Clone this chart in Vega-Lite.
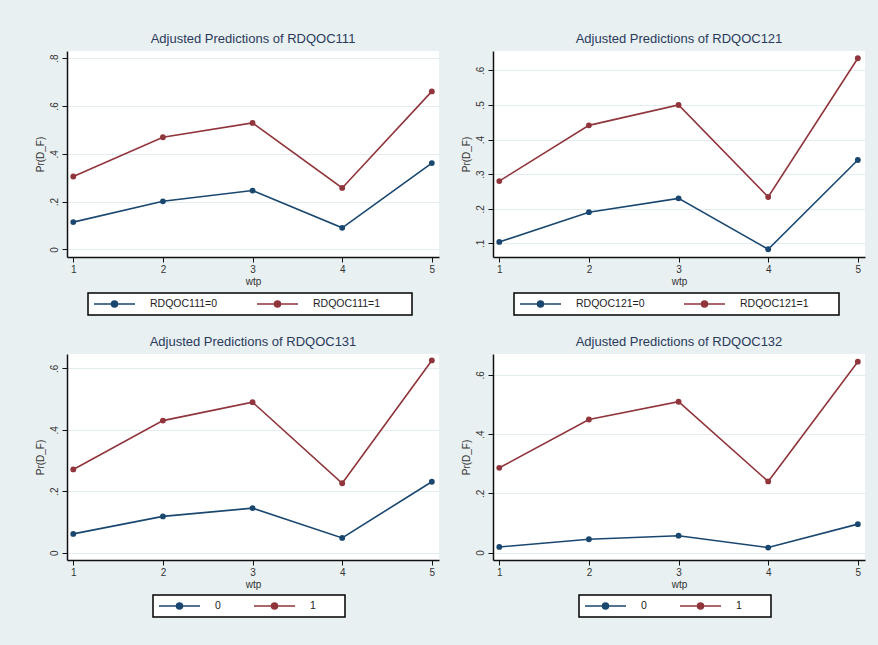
{
  "$schema": "https://vega.github.io/schema/vega-lite/v6.json",
  "background": "#e9f0f2",
  "padding": {"left": 35, "top": 33, "right": 13, "bottom": 28},
  "config": {
    "font": "Liberation Sans",
    "view": {"fill": "white", "stroke": null},
    "title": {"fontSize": 13, "fontWeight": "normal", "color": "#2a3a5c", "anchor": "middle", "offset": 5},
    "axis": {
      "domainColor": "#111", "domainWidth": 1.5, "tickColor": "#111", "tickSize": 5, "tickWidth": 1,
      "labelFontSize": 10, "labelColor": "#333", "titleFontSize": 10, "titleColor": "#333", "titleFontWeight": "normal",
      "labelOverlap": false, "labelFlush": false
    },
    "axisX": {"grid": false, "labelPadding": 2, "titlePadding": 2},
    "axisY": {"grid": true, "gridColor": "#e3ecef", "gridWidth": 1, "labelAngle": 270, "labelAlign": "center", "labelBaseline": "bottom", "labelPadding": 3, "titlePadding": 4},
    "legend": {
      "orient": "none", "direction": "horizontal", "columns": 2, "title": null,
      "strokeColor": "#000", "fillColor": "white", "padding": 5,
      "symbolType": "M-1,0H7.2M2.5,0A0.6,0.6,0,1,0,3.7,0A0.6,0.6,0,1,0,2.5,0Z",
      "symbolSize": 100, "symbolStrokeWidth": 1.5,
      "labelOffset": 45, "labelFontSize": 10.5, "labelColor": "#222"
    }
  },
  "datasets": {
    "p1": [
      {"wtp": 1, "grp": "RDQOC111=0", "pr": 0.114}, {"wtp": 2, "grp": "RDQOC111=0", "pr": 0.201}, {"wtp": 3, "grp": "RDQOC111=0", "pr": 0.246}, {"wtp": 4, "grp": "RDQOC111=0", "pr": 0.090}, {"wtp": 5, "grp": "RDQOC111=0", "pr": 0.361},
      {"wtp": 1, "grp": "RDQOC111=1", "pr": 0.305}, {"wtp": 2, "grp": "RDQOC111=1", "pr": 0.469}, {"wtp": 3, "grp": "RDQOC111=1", "pr": 0.529}, {"wtp": 4, "grp": "RDQOC111=1", "pr": 0.257}, {"wtp": 5, "grp": "RDQOC111=1", "pr": 0.661}
    ],
    "p2": [
      {"wtp": 1, "grp": "RDQOC121=0", "pr": 0.104}, {"wtp": 2, "grp": "RDQOC121=0", "pr": 0.190}, {"wtp": 3, "grp": "RDQOC121=0", "pr": 0.230}, {"wtp": 4, "grp": "RDQOC121=0", "pr": 0.083}, {"wtp": 5, "grp": "RDQOC121=0", "pr": 0.341},
      {"wtp": 1, "grp": "RDQOC121=1", "pr": 0.280}, {"wtp": 2, "grp": "RDQOC121=1", "pr": 0.441}, {"wtp": 3, "grp": "RDQOC121=1", "pr": 0.500}, {"wtp": 4, "grp": "RDQOC121=1", "pr": 0.234}, {"wtp": 5, "grp": "RDQOC121=1", "pr": 0.635}
    ],
    "p3": [
      {"wtp": 1, "grp": "0", "pr": 0.061}, {"wtp": 2, "grp": "0", "pr": 0.118}, {"wtp": 3, "grp": "0", "pr": 0.145}, {"wtp": 4, "grp": "0", "pr": 0.048}, {"wtp": 5, "grp": "0", "pr": 0.231},
      {"wtp": 1, "grp": "1", "pr": 0.271}, {"wtp": 2, "grp": "1", "pr": 0.430}, {"wtp": 3, "grp": "1", "pr": 0.490}, {"wtp": 4, "grp": "1", "pr": 0.226}, {"wtp": 5, "grp": "1", "pr": 0.626}
    ],
    "p4": [
      {"wtp": 1, "grp": "0", "pr": 0.019}, {"wtp": 2, "grp": "0", "pr": 0.045}, {"wtp": 3, "grp": "0", "pr": 0.057}, {"wtp": 4, "grp": "0", "pr": 0.017}, {"wtp": 5, "grp": "0", "pr": 0.096},
      {"wtp": 1, "grp": "1", "pr": 0.286}, {"wtp": 2, "grp": "1", "pr": 0.449}, {"wtp": 3, "grp": "1", "pr": 0.509}, {"wtp": 4, "grp": "1", "pr": 0.240}, {"wtp": 5, "grp": "1", "pr": 0.644}
    ]
  },
  "spacing": 20,
  "resolve": {"scale": {"color": "independent", "x": "independent", "y": "independent"}},
  "vconcat": [
    {
      "spacing": 22,
      "resolve": {"scale": {"color": "independent", "x": "independent", "y": "independent"}},
      "hconcat": [
        {
          "width": 372, "height": 206,
          "title": "Adjusted Predictions of RDQOC111",
          "data": {"name": "p1"},
          "encoding": {
            "x": {"field": "wtp", "type": "quantitative", "title": "wtp", "scale": {"domain": [0.93, 5.08], "nice": false, "zero": false}, "axis": {"values": [1, 2, 3, 4, 5], "format": "d"}},
            "y": {"field": "pr", "type": "quantitative", "title": "Pr(D_F)", "scale": {"domain": [-0.032, 0.83], "nice": false, "zero": false}, "axis": {"values": [0, 0.2, 0.4, 0.6, 0.8], "labelExpr": "datum.value == 0 ? '0' : replace(format(datum.value, '.1f'), '0.', '.')"}},
            "color": {"field": "grp", "type": "nominal", "scale": {"domain": ["RDQOC111=0", "RDQOC111=1"], "range": ["#1a476f", "#90353b"]},
              "legend": {"legendX": 21, "legendY": 242, "columnPadding": 36,
                "encode": {"symbols": {"update": {
                  "fill": {"signal": "test(/0$/, datum.value) ? '#1a476f' : '#90353b'"},
                  "stroke": {"signal": "test(/0$/, datum.value) ? '#1a476f' : '#90353b'"},
                  "shape": {"signal": "test(/1$/, datum.value) ? 'M-1,0H7.2M2.5,0A0.6,0.6,0,1,0,3.7,0A0.6,0.6,0,1,0,2.5,0ZM28.3,0' : 'M-1,0H7.2M2.5,0A0.6,0.6,0,1,0,3.7,0A0.6,0.6,0,1,0,2.5,0Z'"}
                }}, "legend": {"update": {"strokeWidth": {"value": 1.5}}}}}}
          },
          "layer": [
            {"mark": {"type": "line", "strokeWidth": 1.6}},
            {"mark": {"type": "point", "filled": true, "size": 34, "opacity": 1}}
          ]
        },
        {
          "width": 372, "height": 206,
          "title": "Adjusted Predictions of RDQOC121",
          "data": {"name": "p2"},
          "encoding": {
            "x": {"field": "wtp", "type": "quantitative", "title": "wtp", "scale": {"domain": [0.93, 5.08], "nice": false, "zero": false}, "axis": {"values": [1, 2, 3, 4, 5], "format": "d"}},
            "y": {"field": "pr", "type": "quantitative", "title": "Pr(D_F)", "scale": {"domain": [0.0605, 0.656], "nice": false, "zero": false}, "axis": {"values": [0.1, 0.2, 0.3, 0.4, 0.5, 0.6], "labelExpr": "datum.value == 0 ? '0' : replace(format(datum.value, '.1f'), '0.', '.')"}},
            "color": {"field": "grp", "type": "nominal", "scale": {"domain": ["RDQOC121=0", "RDQOC121=1"], "range": ["#1a476f", "#90353b"]},
              "legend": {"legendX": 21, "legendY": 242, "columnPadding": 36,
                "encode": {"symbols": {"update": {
                  "fill": {"signal": "test(/0$/, datum.value) ? '#1a476f' : '#90353b'"},
                  "stroke": {"signal": "test(/0$/, datum.value) ? '#1a476f' : '#90353b'"},
                  "shape": {"signal": "test(/1$/, datum.value) ? 'M-1,0H7.2M2.5,0A0.6,0.6,0,1,0,3.7,0A0.6,0.6,0,1,0,2.5,0ZM28.3,0' : 'M-1,0H7.2M2.5,0A0.6,0.6,0,1,0,3.7,0A0.6,0.6,0,1,0,2.5,0Z'"}
                }}, "legend": {"update": {"strokeWidth": {"value": 1.5}}}}}}
          },
          "layer": [
            {"mark": {"type": "line", "strokeWidth": 1.6}},
            {"mark": {"type": "point", "filled": true, "size": 34, "opacity": 1}}
          ]
        }
      ]
    },
    {
      "spacing": 22,
      "resolve": {"scale": {"color": "independent", "x": "independent", "y": "independent"}},
      "hconcat": [
        {
          "width": 372, "height": 206,
          "title": "Adjusted Predictions of RDQOC131",
          "data": {"name": "p3"},
          "encoding": {
            "x": {"field": "wtp", "type": "quantitative", "title": "wtp", "scale": {"domain": [0.93, 5.08], "nice": false, "zero": false}, "axis": {"values": [1, 2, 3, 4, 5], "format": "d"}},
            "y": {"field": "pr", "type": "quantitative", "title": "Pr(D_F)", "scale": {"domain": [-0.024, 0.647], "nice": false, "zero": false}, "axis": {"values": [0, 0.2, 0.4, 0.6], "labelExpr": "datum.value == 0 ? '0' : replace(format(datum.value, '.1f'), '0.', '.')"}},
            "color": {"field": "grp", "type": "nominal", "scale": {"domain": ["0", "1"], "range": ["#1a476f", "#90353b"]},
              "legend": {"legendX": 86, "legendY": 241, "columnPadding": 30,
                "encode": {"symbols": {"update": {
                  "fill": {"signal": "test(/0$/, datum.value) ? '#1a476f' : '#90353b'"},
                  "stroke": {"signal": "test(/0$/, datum.value) ? '#1a476f' : '#90353b'"},
                  "shape": {"signal": "test(/1$/, datum.value) ? 'M-1,0H7.2M2.5,0A0.6,0.6,0,1,0,3.7,0A0.6,0.6,0,1,0,2.5,0ZM15.6,0' : 'M-1,0H7.2M2.5,0A0.6,0.6,0,1,0,3.7,0A0.6,0.6,0,1,0,2.5,0Z'"}
                }}, "legend": {"update": {"strokeWidth": {"value": 1.5}}}}}}
          },
          "layer": [
            {"mark": {"type": "line", "strokeWidth": 1.6}},
            {"mark": {"type": "point", "filled": true, "size": 34, "opacity": 1}}
          ]
        },
        {
          "width": 372, "height": 206,
          "title": "Adjusted Predictions of RDQOC132",
          "data": {"name": "p4"},
          "encoding": {
            "x": {"field": "wtp", "type": "quantitative", "title": "wtp", "scale": {"domain": [0.93, 5.08], "nice": false, "zero": false}, "axis": {"values": [1, 2, 3, 4, 5], "format": "d"}},
            "y": {"field": "pr", "type": "quantitative", "title": "Pr(D_F)", "scale": {"domain": [-0.025, 0.67], "nice": false, "zero": false}, "axis": {"values": [0, 0.2, 0.4, 0.6], "labelExpr": "datum.value == 0 ? '0' : replace(format(datum.value, '.1f'), '0.', '.')"}},
            "color": {"field": "grp", "type": "nominal", "scale": {"domain": ["0", "1"], "range": ["#1a476f", "#90353b"]},
              "legend": {"legendX": 86, "legendY": 241, "columnPadding": 30,
                "encode": {"symbols": {"update": {
                  "fill": {"signal": "test(/0$/, datum.value) ? '#1a476f' : '#90353b'"},
                  "stroke": {"signal": "test(/0$/, datum.value) ? '#1a476f' : '#90353b'"},
                  "shape": {"signal": "test(/1$/, datum.value) ? 'M-1,0H7.2M2.5,0A0.6,0.6,0,1,0,3.7,0A0.6,0.6,0,1,0,2.5,0ZM15.6,0' : 'M-1,0H7.2M2.5,0A0.6,0.6,0,1,0,3.7,0A0.6,0.6,0,1,0,2.5,0Z'"}
                }}, "legend": {"update": {"strokeWidth": {"value": 1.5}}}}}}
          },
          "layer": [
            {"mark": {"type": "line", "strokeWidth": 1.6}},
            {"mark": {"type": "point", "filled": true, "size": 34, "opacity": 1}}
          ]
        }
      ]
    }
  ]
}
